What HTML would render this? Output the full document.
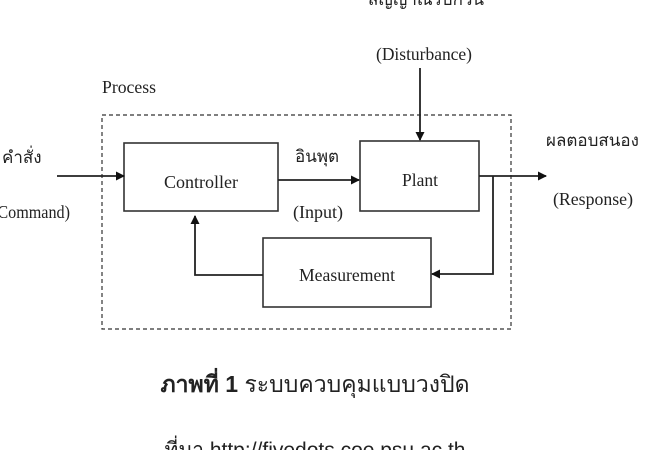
<!DOCTYPE html>
<html><head><meta charset="utf-8"><style>
html,body{margin:0;padding:0;background:#fff;width:650px;height:450px;overflow:hidden}
svg text{font-family:"Liberation Serif",serif;fill:#222}
.th{font-family:"Liberation Sans","DejaVu Sans",sans-serif}
</style></head><body>
<svg width="650" height="450" viewBox="0 0 650 450" xmlns="http://www.w3.org/2000/svg">
<defs><marker id="a" markerWidth="9" markerHeight="9" refX="8" refY="4.5" orient="auto" markerUnits="userSpaceOnUse"><path d="M0,0 L9,4.5 L0,9 z" fill="#111"/></marker></defs>
<rect x="102" y="115" width="409" height="214" fill="none" stroke="#333" stroke-width="1.2" stroke-dasharray="4,3"/>
<g fill="#fff" stroke="#333" stroke-width="1.6">
<rect x="124" y="143" width="154" height="68"/>
<rect x="360" y="141" width="119" height="70"/>
<rect x="263" y="238" width="168" height="69"/>
</g>
<g stroke="#222" stroke-width="1.8" fill="none">
<line x1="57" y1="176" x2="124" y2="176" marker-end="url(#a)"/>
<line x1="278" y1="180" x2="359" y2="180" marker-end="url(#a)"/>
<line x1="479" y1="176" x2="546" y2="176" marker-end="url(#a)"/>
<line x1="420" y1="68" x2="420" y2="140" marker-end="url(#a)"/>
<polyline points="493,176 493,274 432,274" marker-end="url(#a)"/>
<polyline points="263,275 195,275 195,216" marker-end="url(#a)"/>
</g>
<g font-size="18">
<text x="102" y="93" textLength="54" lengthAdjust="spacingAndGlyphs">Process</text>
<text x="376" y="60" textLength="96" lengthAdjust="spacingAndGlyphs">(Disturbance)</text>
<text class="th" x="368" y="5" font-size="17">สัญญาณรบกวน</text>
<text class="th" x="2" y="163" font-size="17">คำสั่ง</text>
<text x="-8" y="218" textLength="78" lengthAdjust="spacingAndGlyphs">(Command)</text>
<text class="th" x="295" y="162" font-size="17">อินพุต</text>
<text x="293" y="218" textLength="50" lengthAdjust="spacingAndGlyphs">(Input)</text>
<text class="th" x="546" y="146" font-size="17">ผลตอบสนอง</text>
<text x="553" y="205" textLength="80" lengthAdjust="spacingAndGlyphs">(Response)</text>
<text x="164" y="188" textLength="74" lengthAdjust="spacingAndGlyphs">Controller</text>
<text x="402" y="186" textLength="36" lengthAdjust="spacingAndGlyphs">Plant</text>
<text x="299" y="281" textLength="96" lengthAdjust="spacingAndGlyphs">Measurement</text>
</g>
<text class="th" x="315" y="392" font-size="23" text-anchor="middle"><tspan font-weight="bold">ภาพที่ 1</tspan> ระบบควบคุมแบบวงปิด</text>
<text class="th" x="315" y="457" font-size="21" text-anchor="middle">ที่มา http://fivedots.coe.psu.ac.th</text>
</svg>
</body></html>
